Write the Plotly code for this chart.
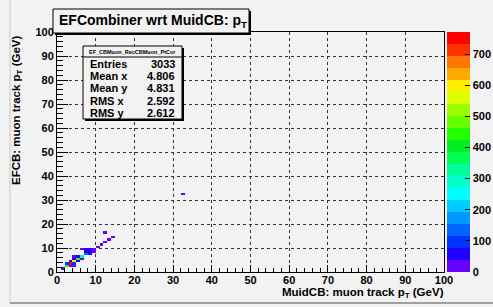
import plotly.graph_objects as go

# ---------------- data ----------------
# occupied 1x1 GeV bins: lower-edge x, lower-edge y, counts
cell_x = [1, 2, 2, 3, 3, 4, 4, 4, 3, 5, 5, 4, 4, 5, 6, 6, 7, 6, 7, 7, 8, 8, 9, 9, 8, 10, 11, 12, 13, 14, 12, 32]
cell_y = [1, 2, 3, 2, 3, 2, 3, 4, 4, 4, 5, 5, 6, 6, 5, 6, 7, 9, 8, 9, 8, 9, 8, 9, 7, 10, 11, 12, 13, 14, 16, 32]
cell_n = [20, 450, 100, 30, 740, 30, 90, 600, 60, 40, 450, 40, 30, 40, 30, 330, 120, 25, 60, 50, 60, 40, 30, 35, 40,
          30, 20, 20, 15, 15, 15, 10]

x_tick_vals = [0, 10, 20, 30, 40, 50, 60, 70, 80, 90, 100]
y_tick_vals = [0, 10, 20, 30, 40, 50, 60, 70, 80, 90, 100]
z_tick_vals = [0, 100, 200, 300, 400, 500, 600, 700]

stats_title = "EF_CBMuon_RecCBMuon_PtCor"
stats_labels = ["Entries", "Mean x", "Mean y", "RMS x", "RMS y"]
stats_values = ["3033", "4.806", "4.831", "2.592", "2.612"]

n_bins = 100
z_max = 771

# ROOT-like 20 level palette (bottom -> top)
palette = ["#6600ff", "#2200ff", "#0033ff", "#0066ff", "#0099ff", "#00ccff", "#00ffff", "#00ffcc",
           "#00ff99", "#00ff55", "#00ee22", "#22ff00", "#66ff00", "#99ff00", "#ddff00", "#ffee00",
           "#ffaa00", "#ff7700", "#ff3300", "#ff0000"]

# ---------------- build matrix ----------------
z = [[None] * n_bins for _ in range(n_bins)]
for cx, cy, cn in zip(cell_x, cell_y, cell_n):
    z[cy][cx] = cn

cs = []
nlev = len(palette)
for i, c in enumerate(palette):
    cs.append([i / nlev, c])
    cs.append([(i + 1) / nlev, c])

W, H = 493, 307
L, R, T, B = 57, 444, 32, 272
PW, PH = R - L, B - T


def px(x):
    return (x - L) / PW


def py(y):
    return (B - y) / PH


BG = "#f2f2f2"
FONT = "Liberation Sans, Arial, sans-serif"

fig = go.Figure()
fig.add_trace(go.Heatmap(
    z=z, x0=0.5, dx=1, y0=0.5, dy=1,
    colorscale=cs, zmin=0, zmax=z_max, hoverongaps=False,
    colorbar=dict(
        x=px(447), xanchor="left", xpad=0,
        y=0, yanchor="bottom", ypad=0,
        len=PH, lenmode="pixels", thickness=23,
        outlinewidth=0,
        tickmode="array", tickvals=z_tick_vals,
        ticks="inside", ticklen=5, tickcolor="black", tickwidth=1,
        tickfont=dict(family=FONT, size=11, color="black", weight="bold"),
    ),
))

axis_common = dict(
    showline=True, linecolor="black", linewidth=1, mirror=True,
    ticks="inside", tickcolor="black", tickwidth=1,
    showgrid=True, gridcolor="#333333", gridwidth=1, griddash="dot",
    zeroline=False,
    tickfont=dict(family=FONT, size=11, color="black", weight="bold"),
    tickmode="array",
)

fig.update_layout(
    width=W, height=H, autosize=False,
    margin=dict(l=L, r=W - R, t=T, b=H - B, pad=0, autoexpand=False),
    paper_bgcolor=BG, plot_bgcolor=BG,
    showlegend=False,
    xaxis=dict(range=[0, 100], tickvals=x_tick_vals, ticklen=7, ticklabelstandoff=-2,
               minor=dict(dtick=2, ticks="inside", ticklen=4, tickcolor="black", showgrid=False),
               **axis_common),
    yaxis=dict(range=[0, 100], tickvals=y_tick_vals, ticklen=11, ticklabelstandoff=0,
               minor=dict(dtick=2, ticks="inside", ticklen=6, tickcolor="black", showgrid=False),
               **axis_common),
)

shapes = []
ann = []

# canvas border
shapes.append(dict(type="line", xref="paper", yref="paper", x0=px(10), x1=px(10), y0=py(0), y1=py(302),
                   line=dict(color="#c8c8c8", width=1)))
shapes.append(dict(type="line", xref="paper", yref="paper", x0=px(10), x1=px(493), y0=py(303), y1=py(303),
                   line=dict(color="#a0a0a0", width=2)))

# title box with shadow
shapes.append(dict(type="rect", xref="paper", yref="paper", x0=px(55), x1=px(251), y0=py(35), y1=py(11),
                   line=dict(width=0), fillcolor="black"))
shapes.append(dict(type="rect", xref="paper", yref="paper", x0=px(53), x1=px(249), y0=py(33), y1=py(9),
                   line=dict(color="black", width=1), fillcolor=BG))
ann.append(dict(xref="paper", yref="paper", x=px(57), y=py(21), xanchor="left", yanchor="middle",
                text="EFCombiner wrt MuidCB: p<sub>T</sub>", showarrow=False,
                font=dict(family=FONT, size=14, color="black", weight="bold")))

# stats box with shadow
shapes.append(dict(type="rect", xref="paper", yref="paper", x0=px(85), x1=px(184), y0=py(121), y1=py(48),
                   line=dict(width=0), fillcolor="black"))
shapes.append(dict(type="rect", xref="paper", yref="paper", x0=px(83), x1=px(182), y0=py(119), y1=py(46),
                   line=dict(color="black", width=1), fillcolor=BG))
shapes.append(dict(type="line", xref="paper", yref="paper", x0=px(83), x1=px(182), y0=py(57), y1=py(57),
                   line=dict(color="black", width=1)))
ann.append(dict(xref="paper", yref="paper", x=px(132.5), y=py(51.5), xanchor="center", yanchor="middle",
                text=stats_title, showarrow=False,
                font=dict(family=FONT, size=5.5, color="black", weight="bold")))
for i, (lab, val) in enumerate(zip(stats_labels, stats_values)):
    yy = py(64 + 12.2 * i)
    ann.append(dict(xref="paper", yref="paper", x=px(88), y=yy, xanchor="left", yanchor="middle",
                    text=lab, showarrow=False,
                    font=dict(family=FONT, size=11, color="black", weight="bold")))
    ann.append(dict(xref="paper", yref="paper", x=px(177), y=yy, xanchor="right", yanchor="middle",
                    text=val, showarrow=False,
                    font=dict(family=FONT, size=11, color="black", weight="bold")))

# axis titles
ann.append(dict(xref="paper", yref="paper", x=px(446), y=py(293), xanchor="right", yanchor="middle",
                text="MuidCB: muon track p<sub>T</sub> (GeV)", showarrow=False,
                font=dict(family=FONT, size=11.5, color="black", weight="bold")))
ann.append(dict(xref="paper", yref="paper", x=px(17), y=py(33), xanchor="center", yanchor="top",
                text="EFCB: muon track p<sub>T</sub> (GeV)", showarrow=False, textangle=-90,
                font=dict(family=FONT, size=11.5, color="black", weight="bold")))

fig.update_layout(shapes=shapes, annotations=ann)
fig.write_html("out.html", config={"displayModeBar": False},
               post_script="document.body.style.margin='0';document.body.style.overflow='hidden';")
